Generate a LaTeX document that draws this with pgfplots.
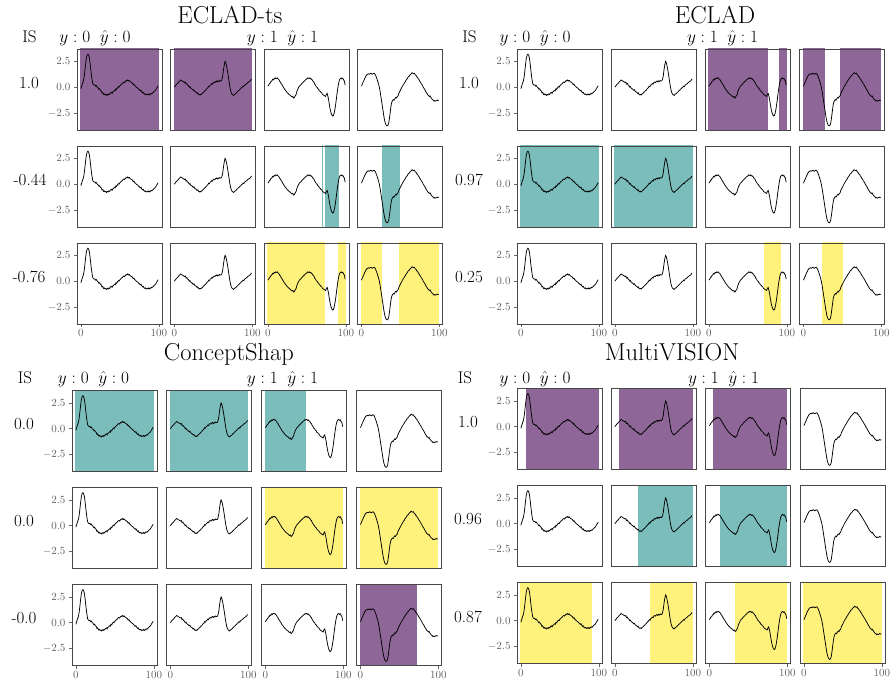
\documentclass[border=0pt]{standalone}
\usepackage{pgfplots}
\usepackage{pgfplotstable}
\pgfplotsset{compat=1.18}
\definecolor{vpur}{HTML}{8F6698}
\definecolor{vteal}{HTML}{7ABDBA}
\definecolor{vyel}{HTML}{FEF17C}

\pgfplotstableread{
x y
0 -0.15
1 0.1
2 0.35
3 0.55
4 0.9
5 1.5
6 2.2
7 2.8
8 3.1
9 3.2
10 3.1
11 2.8
12 2.2
13 1.5
14 0.9
15 0.4
16 0.25
17 0.2
18 0.22
19 0.1
20 0.15
21 0.0
22 -0.05
23 -0.2
24 -0.15
25 -0.3
26 -0.35
27 -0.55
28 -0.5
29 -0.7
30 -0.65
31 -0.75
32 -0.7
33 -0.8
34 -0.7
35 -0.75
36 -0.65
37 -0.7
38 -0.55
39 -0.5
40 -0.6
41 -0.45
42 -0.4
43 -0.3
44 -0.35
45 -0.15
46 -0.2
47 -0.05
48 0.05
49 0.0
50 0.15
51 0.2
52 0.3
53 0.35
54 0.45
55 0.5
56 0.45
57 0.55
58 0.65
59 0.6
60 0.7
61 0.6
62 0.65
63 0.55
64 0.5
65 0.45
66 0.4
67 0.25
68 0.3
69 0.15
70 0.1
71 0.0
72 -0.05
73 -0.1
74 -0.2
75 -0.25
76 -0.35
77 -0.3
78 -0.45
79 -0.55
80 -0.5
81 -0.65
82 -0.7
83 -0.65
84 -0.75
85 -0.7
86 -0.75
87 -0.65
88 -0.75
89 -0.7
90 -0.6
91 -0.65
92 -0.55
93 -0.5
94 -0.4
95 -0.35
96 -0.25
97 -0.1
98 0.0
99 0.15
}\serA

\pgfplotstableread{
x y
0 0.0
1 0.1
2 0.2
3 0.3
4 0.35
5 0.45
6 0.55
7 0.6
8 0.7
9 0.65
10 0.6
11 0.55
12 0.5
13 0.45
14 0.5
15 0.3
16 0.35
17 0.2
18 0.15
19 0.0
20 0.05
21 -0.1
22 -0.15
23 -0.2
24 -0.3
25 -0.25
26 -0.4
27 -0.45
28 -0.5
29 -0.6
30 -0.55
31 -0.7
32 -0.75
33 -0.7
34 -0.75
35 -0.65
36 -0.6
37 -0.5
38 -0.45
39 -0.35
40 -0.3
41 -0.2
42 -0.1
43 -0.05
44 0.1
45 0.05
46 0.2
47 0.25
48 0.35
49 0.3
50 0.45
51 0.5
52 0.45
53 0.55
54 0.6
55 0.5
56 0.6
57 0.55
58 0.65
59 0.6
60 0.6
61 0.75
62 1.1
63 1.7
64 2.2
65 2.5
66 2.35
67 2.0
68 1.6
69 1.1
70 0.6
71 0.1
72 -0.3
73 -0.55
74 -0.7
75 -0.75
76 -0.8
77 -0.7
78 -0.65
79 -0.6
80 -0.5
81 -0.45
82 -0.35
83 -0.3
84 -0.2
85 -0.15
86 -0.05
87 0.0
88 0.1
89 0.05
90 0.2
91 0.25
92 0.3
93 0.35
94 0.45
95 0.5
96 0.55
97 0.6
98 0.7
99 0.8
}\serB

\pgfplotstableread{
x y
0 0.1
1 0.2
2 0.35
3 0.4
4 0.55
5 0.6
6 0.75
7 0.7
8 0.85
9 0.8
10 0.9
11 0.85
12 0.9
13 0.8
14 0.75
15 0.6
16 0.5
17 0.35
18 0.25
19 0.1
20 0.0
21 -0.15
22 -0.25
23 -0.35
24 -0.45
25 -0.55
26 -0.6
27 -0.7
28 -0.75
29 -0.8
30 -0.9
31 -0.95
32 -0.9
33 -1.05
34 -1.0
35 -0.85
36 -0.75
37 -0.45
38 -0.25
39 -0.1
40 0.05
41 0.15
42 0.2
43 0.3
44 0.4
45 0.45
46 0.55
47 0.6
48 0.7
49 0.75
50 0.8
51 0.9
52 0.85
53 0.9
54 0.8
55 0.85
56 0.75
57 0.7
58 0.55
59 0.5
60 0.3
61 0.2
62 0.05
63 0.0
64 -0.15
65 -0.2
66 -0.35
67 -0.4
68 -0.5
69 -0.55
70 -0.7
71 -0.75
72 -0.8
73 -0.85
74 -0.9
75 -0.7
76 -0.6
77 -0.9
78 -1.3
79 -1.8
80 -2.2
81 -2.5
82 -2.7
83 -2.8
84 -2.75
85 -2.5
86 -2.1
87 -1.6
88 -1.0
89 -0.4
90 0.1
91 0.5
92 0.75
93 0.85
94 0.9
95 0.8
96 0.85
97 0.7
98 0.6
99 0.2
}\serC

\pgfplotstableread{
x y
0 0.1
1 0.25
2 0.45
3 0.6
4 0.8
5 0.95
6 1.1
7 1.2
8 1.25
9 1.3
10 1.25
11 1.3
12 1.35
13 1.3
14 1.25
15 1.3
16 1.35
17 1.3
18 1.2
19 1.0
20 0.8
21 0.55
22 0.3
23 0.0
24 -0.4
25 -0.9
26 -1.4
27 -1.9
28 -2.4
29 -2.9
30 -3.3
31 -3.55
32 -3.7
33 -3.75
34 -3.7
35 -3.5
36 -3.0
37 -2.4
38 -1.8
39 -1.45
40 -1.3
41 -1.2
42 -1.25
43 -1.1
44 -1.0
45 -1.05
46 -0.9
47 -0.85
48 -0.6
49 -0.45
50 -0.3
51 -0.15
52 0.0
53 0.15
54 0.25
55 0.4
56 0.5
57 0.65
58 0.75
59 0.85
60 1.0
61 1.05
62 1.15
63 1.25
64 1.3
65 1.4
66 1.35
67 1.3
68 1.35
69 1.2
70 1.15
71 1.0
72 0.95
73 0.8
74 0.7
75 0.55
76 0.45
77 0.3
78 0.2
79 0.05
80 -0.1
81 -0.2
82 -0.35
83 -0.5
84 -0.6
85 -0.75
86 -0.8
87 -0.9
88 -0.85
89 -1.0
90 -1.1
91 -1.2
92 -1.25
93 -1.35
94 -1.3
95 -1.35
96 -1.3
97 -1.25
98 -1.3
99 -1.25
}\serD

\pgfplotsset{
  sub/.style={scale only axis, width=85pt, height=81pt, anchor=north west,
    xmin=-4.95, xmax=103.95, ymin=-4.15, ymax=3.7,
    xtick=\empty, ytick=\empty, axis on top,
    axis line style={draw=black!72, line width=0.8pt},
    tick align=outside, major tick length=3pt,
    tick style={black!60, line width=0.6pt},
    xtick pos=bottom, ytick pos=left,
    ticklabel style={font=\fontsize{10.5}{11}\selectfont, text=black!62},
    yticklabel style={/pgf/number format/.cd, fixed, fixed zerofill, precision=1},
    xticklabel style={yshift=1pt},
  },
  yl/.style={ytick={-2.5,0,2.5}},
  xl/.style={xtick={0,100}},
}
\newcommand{\sh}[3]{\addplot[draw=none, fill=#1, forget plot] coordinates {(#2,-9) (#2,9) (#3,9) (#3,-9)};}
\newcommand{\cell}[5]{%
  \begin{axis}[sub, at={(#1pt,{681pt-#2pt})}, #5]
  #4
  \addplot[black, line width=0.75pt] table {#3};
  \end{axis}}
\newcommand{\bigT}{\fontsize{24.5}{28}\selectfont}
\newcommand{\midT}{\fontsize{17}{20}\selectfont}

\begin{document}
\begin{tikzpicture}[x=1pt,y=1pt]
\useasboundingbox (0,0) rectangle (890,681);

% ---------------- ECLAD-ts ----------------
\node[anchor=base] at (230,{681-23.5}) {\bigT ECLAD-ts};
\node[anchor=base] at (29.5,{681-43}) {\midT IS};
\node[anchor=base] at (95,{681-43}) {\midT $y:0\;\;\hat{y}:0$};
\node[anchor=base] at (282.5,{681-43}) {\midT $y:1\;\;\hat{y}:1$};
\node at (29,{681-83}) {\midT 1.0};
\node at (30,{681-180}) {\midT -0.44};
\node at (29,{681-277}) {\midT -0.76};

\cell{77}{49}{\serA}{\sh{vpur}{-1}{100}}{yl}
\cell{170.5}{49}{\serB}{\sh{vpur}{-1}{100}}{}
\cell{264}{49}{\serC}{}{}
\cell{357.5}{49}{\serD}{}{}

\cell{77}{146}{\serA}{}{yl}
\cell{170.5}{146}{\serB}{}{}
\cell{264}{146}{\serC}{\sh{vteal}{69.5}{70.5}\sh{vteal}{73.5}{90.5}}{}
\cell{357.5}{146}{\serD}{\sh{vteal}{26}{49.5}}{}

\cell{77}{243}{\serA}{}{yl,xl}
\cell{170.5}{243}{\serB}{}{xl}
\cell{264}{243}{\serC}{\sh{vyel}{-1}{73.5}\sh{vyel}{89.5}{100}}{xl}
\cell{357.5}{243}{\serD}{\sh{vyel}{-1}{26}\sh{vyel}{48}{100}}{xl}

% ---------------- ECLAD ----------------
\node[anchor=base] at (715,{681-23.5}) {\bigT ECLAD};
\node[anchor=base] at (469.5,{681-43}) {\midT IS};
\node[anchor=base] at (535,{681-43}) {\midT $y:0\;\;\hat{y}:0$};
\node[anchor=base] at (722.5,{681-43}) {\midT $y:1\;\;\hat{y}:1$};
\node at (469,{681-83}) {\midT 1.0};
\node at (469,{681-180}) {\midT 0.97};
\node at (469,{681-277}) {\midT 0.25};

\cell{517}{49}{\serA}{}{yl}
\cell{611}{49}{\serB}{}{}
\cell{705}{49}{\serC}{\sh{vpur}{-1}{76}\sh{vpur}{90}{100}}{}
\cell{799.5}{49}{\serD}{\sh{vpur}{-1}{28}\sh{vpur}{47}{100}}{}

\cell{517}{146}{\serA}{\sh{vteal}{-1}{100}}{yl}
\cell{611}{146}{\serB}{\sh{vteal}{-1}{100}}{}
\cell{705}{146}{\serC}{}{}
\cell{799.5}{146}{\serD}{}{}

\cell{517}{243}{\serA}{}{yl,xl}
\cell{611}{243}{\serB}{}{xl}
\cell{705}{243}{\serC}{\sh{vyel}{70}{92}}{xl}
\cell{799.5}{243}{\serD}{\sh{vyel}{24}{51}}{xl}

% ---------------- ConceptShap ----------------
\node[anchor=base] at (229,{681-360.5}) {\bigT ConceptShap};
\node[anchor=base] at (25,{681-383}) {\midT IS};
\node[anchor=base] at (93.5,{681-383}) {\midT $y:0\;\;\hat{y}:0$};
\node[anchor=base] at (282.5,{681-383}) {\midT $y:1\;\;\hat{y}:1$};
\node at (24,{681-424.5}) {\midT 0.0};
\node at (24,{681-521.5}) {\midT 0.0};
\node at (24,{681-618.5}) {\midT -0.0};

\cell{72}{390.5}{\serA}{\sh{vteal}{-1}{100}}{yl}
\cell{166.5}{390.5}{\serB}{\sh{vteal}{-1}{100}}{}
\cell{261.5}{390.5}{\serC}{\sh{vteal}{-1}{52}}{}
\cell{356.5}{390.5}{\serD}{}{}

\cell{72}{487.5}{\serA}{}{yl}
\cell{166.5}{487.5}{\serB}{}{}
\cell{261.5}{487.5}{\serC}{\sh{vyel}{-1}{100}}{}
\cell{356.5}{487.5}{\serD}{\sh{vyel}{-1}{100}}{}

\cell{72}{584.5}{\serA}{}{yl,xl}
\cell{166.5}{584.5}{\serB}{}{xl}
\cell{261.5}{584.5}{\serC}{}{xl}
\cell{356.5}{584.5}{\serD}{\sh{vpur}{-1}{72}}{xl}

% ---------------- MultiVISION ----------------
\node[anchor=base] at (672,{681-360.5}) {\bigT MultiVISION};
\node[anchor=base] at (465,{681-383}) {\midT IS};
\node[anchor=base] at (535,{681-383}) {\midT $y:0\;\;\hat{y}:0$};
\node[anchor=base] at (723.5,{681-383}) {\midT $y:1\;\;\hat{y}:1$};
\node at (468,{681-422.5}) {\midT 1.0};
\node at (468,{681-519.5}) {\midT 0.96};
\node at (468,{681-616.5}) {\midT 0.87};

\cell{517}{388.5}{\serA}{\sh{vpur}{6}{100}}{yl}
\cell{611}{388.5}{\serB}{\sh{vpur}{5}{100}}{}
\cell{705.5}{388.5}{\serC}{\sh{vpur}{4.5}{100}}{}
\cell{800}{388.5}{\serD}{}{}

\cell{517}{485.5}{\serA}{}{yl}
\cell{611}{485.5}{\serB}{\sh{vteal}{29}{100}}{}
\cell{705.5}{485.5}{\serC}{\sh{vteal}{13.5}{100}}{}
\cell{800}{485.5}{\serD}{}{}

\cell{517}{582.5}{\serA}{\sh{vyel}{-1}{90.5}}{yl,xl}
\cell{611}{582.5}{\serB}{\sh{vyel}{44.5}{100}}{xl}
\cell{705.5}{582.5}{\serC}{\sh{vyel}{32.5}{100}}{xl}
\cell{800}{582.5}{\serD}{\sh{vyel}{-1}{100}}{xl}

\end{tikzpicture}
\end{document}
